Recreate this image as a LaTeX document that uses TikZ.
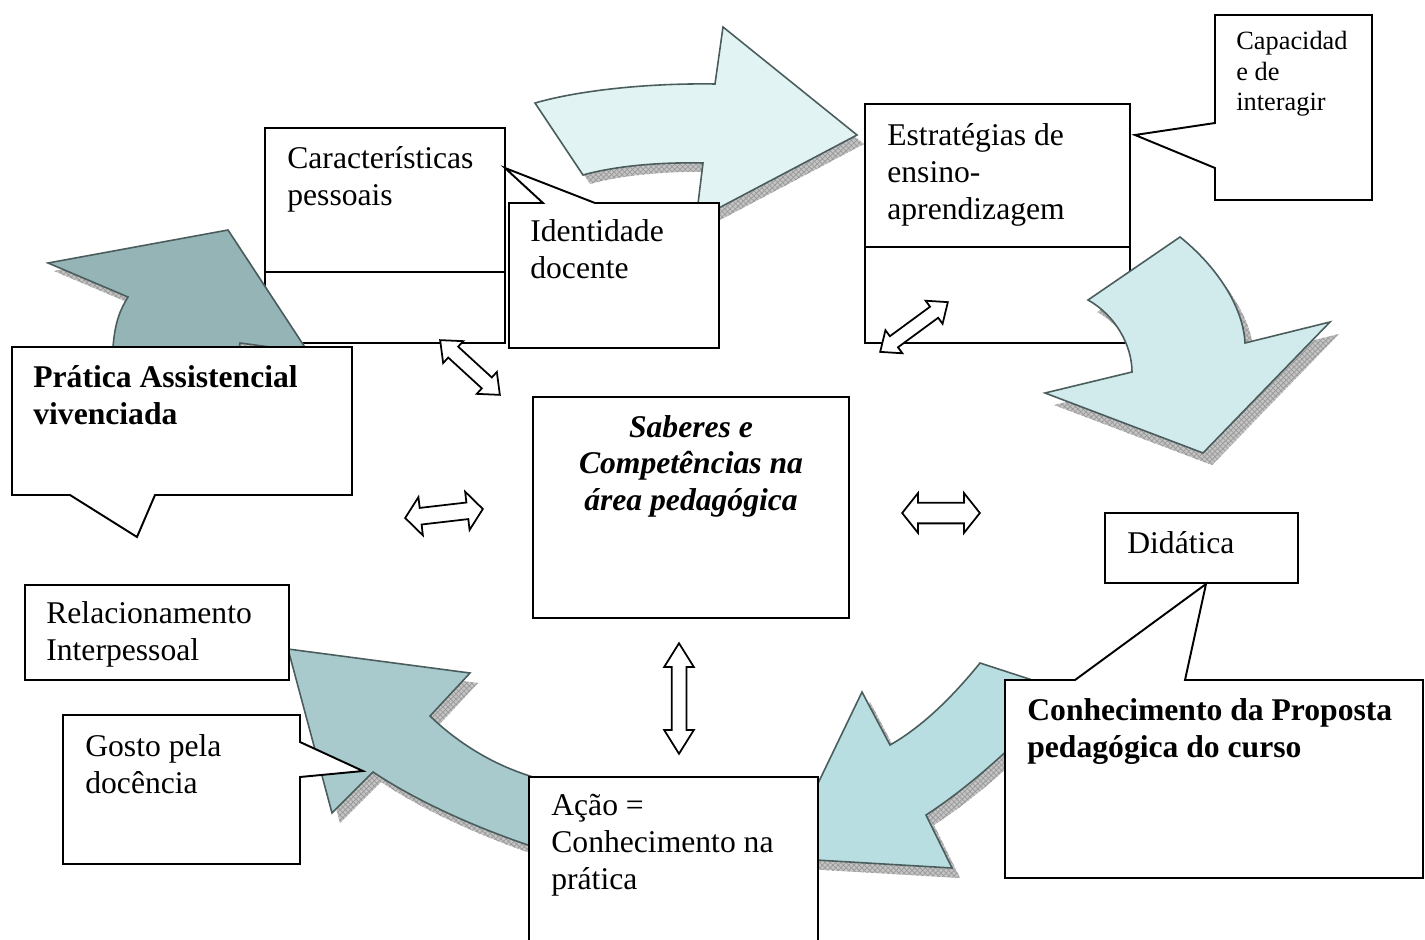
\documentclass[tikz,border=0pt]{standalone}
\usepackage{fontspec}
\setmainfont{Liberation Serif}
\usetikzlibrary{shapes.arrows,patterns}
\definecolor{cA}{HTML}{E2F3F3}
\definecolor{cB}{HTML}{D1EAEC}
\definecolor{cC}{HTML}{B8DEE1}
\definecolor{cD}{HTML}{A8CACC}
\definecolor{cE}{HTML}{95B4B6}
\definecolor{edgec}{HTML}{4A5C5C}
\definecolor{shd}{HTML}{C4C4C4}
\tikzset{
 box/.style={draw=black, line width=1.1pt, fill=white, line join=miter},
 cshape/.style={draw=edgec, line width=0.9pt, line join=miter},
 shadowstyle/.style={fill=shd, postaction={pattern=crosshatch, pattern color=gray!80}},
 txt/.style={anchor=base west, align=left, inner sep=0pt, font=\fontsize{18}{21}\selectfont},
 btxt/.style={txt, font=\fontsize{18}{21}\selectfont\bfseries},
 darr/.style={shape=double arrow, draw=black, fill=white, line width=1pt, inner xsep=0pt, minimum width=0pt},
}
\begin{document}
\begin{tikzpicture}[x=0.02cm, y=-0.02cm]
\useasboundingbox (0,0) rectangle (1425,939);
\fill[white] (0,0) rectangle (1425,939);

% boxes under the arrows
\draw[box] (265,128) rectangle (505,343);
\draw[line width=1.1pt] (265,272) -- (505,272);
\draw[box] (865,104) rectangle (1130,343);
\draw[line width=1.1pt] (865,247) -- (1130,247);

% shadows
\path[shadowstyle, shift={(7,9)}] (535,103) .. controls (580,90) and (650,83) .. (715,84) -- (723,27) -- (857,135) -- (696,220) -- (703,163) .. controls (660,162) and (615,166) .. (583,175) -- cycle;
\path[shadowstyle, shift={(9,12)}] (1180,237) .. controls (1215,265) and (1243,305) .. (1245,343) -- (1330,322) -- (1203,453) -- (1045,393) -- (1132,372) .. controls (1132,345) and (1115,315) .. (1088,300) -- cycle;
\path[shadowstyle, shift={(8,10)}] (980,663) -- (1066,691) .. controls (1030,730) and (980,780) .. (926,815) -- (952,868) -- (782,858) -- (862,692) -- (890,745) .. controls (920,728) and (950,700) .. (980,663) -- cycle;
\path[shadowstyle, shift={(8,10)}] (288,649) -- (470,673) -- (430,716) .. controls (460,745) and (495,765) .. (530,776) -- (575,792) -- (565,865) -- (540,849) .. controls (475,828) and (415,800) .. (373,772) -- (332,813) -- cycle;
\path[shadowstyle, shift={(6,8)}] (228,230) -- (308,352) -- (240,343) -- (225,430) -- (115,430) -- (113,347) .. controls (115,322) and (120,310) .. (128,297) -- (48,263) -- cycle;

% curved arrows
\path[cshape, fill=cA] (535,103) .. controls (580,90) and (650,83) .. (715,84) -- (723,27) -- (857,135) -- (696,220) -- (703,163) .. controls (660,162) and (615,166) .. (583,175) -- cycle;
\path[cshape, fill=cB] (1180,237) .. controls (1215,265) and (1243,305) .. (1245,343) -- (1330,322) -- (1203,453) -- (1045,393) -- (1132,372) .. controls (1132,345) and (1115,315) .. (1088,300) -- cycle;
\path[cshape, fill=cC] (980,663) -- (1066,691) .. controls (1030,730) and (980,780) .. (926,815) -- (952,868) -- (782,858) -- (862,692) -- (890,745) .. controls (920,728) and (950,700) .. (980,663) -- cycle;
\path[cshape, fill=cD] (288,649) -- (470,673) -- (430,716) .. controls (460,745) and (495,765) .. (530,776) -- (575,792) -- (565,865) -- (540,849) .. controls (475,828) and (415,800) .. (373,772) -- (332,813) -- cycle;
\path[cshape, fill=cE] (228,230) -- (308,352) -- (240,343) -- (225,430) -- (115,430) -- (113,347) .. controls (115,322) and (120,310) .. (128,297) -- (48,263) -- cycle;

% boxes and callouts over the arrows
\draw[box] (509,203) -- (543,203) -- (505,168) -- (595,203) -- (719,203) -- (719,348) -- (509,348) -- cycle;
\draw[box] (1215,15) -- (1372,15) -- (1372,200) -- (1215,200) -- (1215,168) -- (1135,135) -- (1215,123) -- cycle;
\draw[box] (12,347) -- (352,347) -- (352,495) -- (155,495) -- (137,537) -- (70,495) -- (12,495) -- cycle;
\draw[box] (533,397) rectangle (849,618);
\draw[box] (1105,513) rectangle (1298,583);
\draw[box] (25,585) rectangle (289,680);
\draw[box] (63,715) -- (300,715) -- (300,742) -- (363,771) -- (300,777) -- (300,864) -- (63,864) -- cycle;
\draw[box] (529,950) -- (529,777) -- (818,777) -- (818,950);
\draw[box] (1005,680) -- (1075,680) -- (1206,584) -- (1185,680) -- (1423,680) -- (1423,878) -- (1005,878) -- cycle;

% double arrows
\node[darr, minimum height=46.1pt, inner ysep=3.7pt, double arrow head extend=4.25pt, double arrow tip angle=80, rotate=-42.5] (d1) at (470,367.5) {};
\node[darr, minimum height=44.5pt, inner ysep=4.25pt, double arrow head extend=6.2pt, double arrow tip angle=102, rotate=6.6] (d2) at (444,513.5) {};
\node[darr, minimum height=44.2pt, inner ysep=5.4pt, double arrow head extend=5.4pt, double arrow tip angle=103] (d3) at (941,513) {};
\node[darr, minimum height=62.9pt, inner ysep=3.7pt, double arrow head extend=4.25pt, double arrow tip angle=64, rotate=90] (d4) at (679,698.5) {};
\node[darr, minimum height=47.8pt, inner ysep=3.4pt, double arrow head extend=4.25pt, double arrow tip angle=80, rotate=36.3] (d5) at (914,327) {};

% texts (anchored at the baseline of the last line)
\node[txt] (tcar) at (287,205) {Características\\pessoais};
\node[txt] (tide) at (530,278) {Identidade\\docente};
\node[txt] (test) at (887,219) {Estratégias de\\ensino-\\aprendizagem};
\node[txt, font=\fontsize{15}{17.6}\selectfont] (tcap) at (1236,111) {Capacidad\\e de\\interagir};
\node[btxt] (tpra) at (33,424) {Prática Assistencial\\vivenciada};
\node[anchor=base, align=center, inner sep=0pt, font=\fontsize{18}{20.7}\selectfont\bfseries\itshape] (tsab) at (691,510) {Saberes e\\Competências na\\área pedagógica};
\node[txt] (tdid) at (1127,553) {Didática};
\node[txt] (trel) at (46,660) {Relacionamento\\Interpessoal};
\node[txt] (tgos) at (85,793) {Gosto pela\\docência};
\node[btxt] (tcon) at (1027,757) {Conhecimento da Proposta\\pedagógica do curso};
\node[txt] (taca) at (551,889) {Ação =\\Conhecimento na\\prática};
\end{tikzpicture}
\end{document}
